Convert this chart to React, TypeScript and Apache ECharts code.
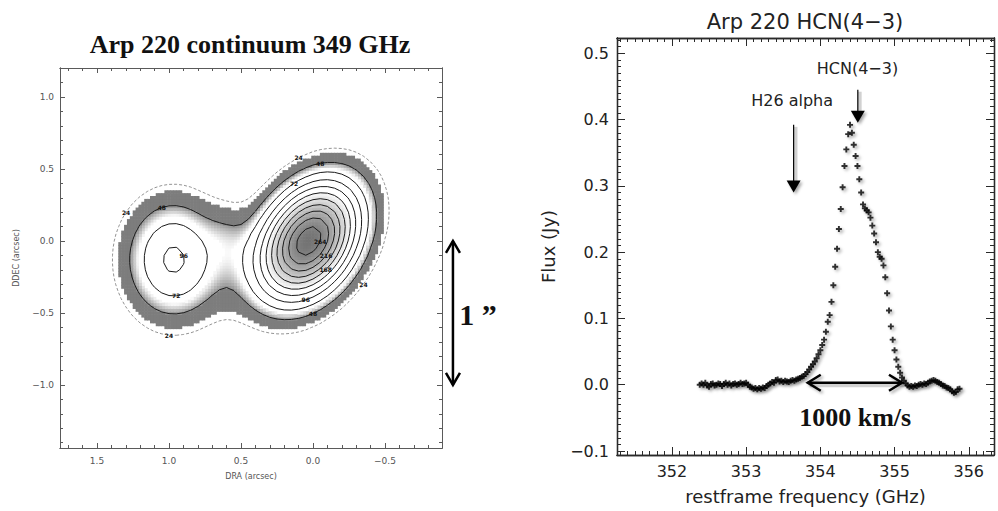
import React, { useEffect, useRef } from 'react';
import * as echarts from 'echarts';

// ---------------- Right panel: HCN(4-3) spectrum ----------------
const SPECTRUM: [number, number][] = [
  [352.375, 0.000], [352.400, 0.002], [352.425, 0.000], [352.450, 0.003], [352.475, -0.001],
  [352.500, -0.003], [352.525, 0.001], [352.550, 0.002], [352.575, -0.001], [352.600, 0.000],
  [352.625, 0.002], [352.650, 0.001], [352.675, -0.002], [352.700, 0.001], [352.725, 0.003],
  [352.750, 0.000], [352.775, 0.002], [352.800, -0.001], [352.825, 0.001], [352.850, 0.002],
  [352.875, 0.000], [352.900, 0.001], [352.925, 0.003], [352.950, 0.001], [352.975, 0.002],
  [353.000, 0.003], [353.025, 0.000], [353.050, -0.003], [353.075, -0.004], [353.100, -0.006],
  [353.125, -0.005], [353.150, -0.007], [353.175, -0.005], [353.200, -0.006], [353.225, -0.004],
  [353.250, -0.005], [353.275, -0.002], [353.300, 0.000], [353.325, 0.002], [353.350, 0.004],
  [353.375, 0.003], [353.400, 0.007], [353.425, 0.008], [353.450, 0.005], [353.475, 0.006],
  [353.500, 0.004], [353.525, 0.006], [353.550, 0.005], [353.575, 0.004], [353.600, 0.006],
  [353.625, 0.007], [353.650, 0.006], [353.675, 0.008], [353.700, 0.009], [353.725, 0.010],
  [353.750, 0.012], [353.775, 0.013], [353.800, 0.016], [353.825, 0.019], [353.850, 0.023],
  [353.875, 0.027], [353.900, 0.031], [353.925, 0.035], [353.950, 0.040], [353.975, 0.046],
  [354.000, 0.052], [354.025, 0.060], [354.050, 0.068], [354.075, 0.080], [354.100, 0.095],
  [354.125, 0.105], [354.150, 0.125], [354.175, 0.150], [354.200, 0.178], [354.225, 0.205],
  [354.250, 0.235], [354.275, 0.265], [354.300, 0.298], [354.325, 0.330], [354.350, 0.355],
  [354.375, 0.378], [354.400, 0.392], [354.425, 0.380], [354.450, 0.362], [354.475, 0.345],
  [354.500, 0.330], [354.525, 0.310], [354.550, 0.290], [354.575, 0.272], [354.600, 0.266],
  [354.625, 0.263], [354.650, 0.260], [354.675, 0.252], [354.700, 0.240], [354.725, 0.228],
  [354.750, 0.215], [354.775, 0.200], [354.800, 0.193], [354.825, 0.190], [354.850, 0.180],
  [354.875, 0.162], [354.900, 0.138], [354.925, 0.112], [354.950, 0.088], [354.975, 0.068],
  [355.000, 0.052], [355.025, 0.038], [355.050, 0.027], [355.075, 0.018], [355.100, 0.011],
  [355.125, 0.006], [355.150, 0.002], [355.175, -0.001], [355.200, -0.003], [355.225, -0.002],
  [355.250, -0.003], [355.275, -0.001], [355.300, -0.002], [355.325, 0.000], [355.350, 0.001],
  [355.375, 0.000], [355.400, 0.002], [355.425, 0.001], [355.450, 0.003], [355.475, 0.005],
  [355.500, 0.006], [355.525, 0.007], [355.550, 0.006], [355.575, 0.004], [355.600, 0.003],
  [355.625, 0.001], [355.650, -0.001], [355.675, -0.002], [355.700, -0.004], [355.725, -0.005],
  [355.750, -0.007], [355.775, -0.010], [355.800, -0.012], [355.825, -0.011], [355.850, -0.007],
  [355.875, -0.006],
];
const FREQ_TICKS = [352, 353, 354, 355, 356];
const FLUX_TICKS = [-0.1, 0, 0.1, 0.2, 0.3, 0.4, 0.5];
const FREQ_RANGE = [351.26, 356.34];
const FLUX_RANGE = [-0.106, 0.523];
const LINE_MARKS = [
  { name: 'HCN(4−3)', freq: 354.505, top: 0.445, tip: 0.395, labelFreq: 354.5, labelFlux: 0.477 },
  { name: 'H26 alpha', freq: 353.64, top: 0.392, tip: 0.29, labelFreq: 353.62, labelFlux: 0.428 },
];
const VELOCITY_BAR = { from: 353.83, to: 355.1, flux: 0.003, label: '1000 km/s', labelFreq: 354.47, labelFlux: -0.05 };

// ---------------- Left panel: continuum map ----------------
const DRA_TICKS = [1.5, 1.0, 0.5, 0.0, -0.5];
const DDEC_TICKS = [1.0, 0.5, 0.0, -0.5, -1.0];
const DRA_RANGE = [-0.896, 1.757];
const DDEC_RANGE = [-1.4375, 1.201];
const CONTOUR_LEVELS = [24, 48, 72, 96, 120, 144, 168, 192, 216, 240, 264];
// dra, ddec, peak, sigma major, sigma minor, angle of major axis (deg, screen right = -DRA, ccw)
const SOURCES = [
  [0.03, 0.0, 280, 0.316, 0.218, 57],
  [0.97, -0.13, 100, 0.31, 0.25, 90],
  [0.6, 0.06, 14, 0.16, 0.1, 90],
];
const CONTOUR_LABELS: [number, number, number][] = [
  [24, 1.26, 0.18], [48, 1.09, 0.28], [24, 0.08, 0.6], [48, -0.05, 0.54], [72, 0.14, 0.4],
  [96, 0.9, -0.12], [72, 0.95, -0.39], [24, 0.98, -0.67], [48, 0.02, -0.46], [96, 0.06, -0.37],
  [24, -0.31, -0.27], [264, -0.06, -0.02], [216, -0.09, -0.14], [168, -0.1, -0.23],
];
const SCALE_BAR = { dra: -0.972, from: 0.0, to: -1.0, label: '1 ”' };

type Pt = [number, number];

function field(dra: number, ddec: number): number {
  let s = 0;
  for (const [x0, y0, a, sa, sb, pa] of SOURCES) {
    const u = -(dra - x0);
    const v = ddec - y0;
    const t = (pa * Math.PI) / 180;
    const p = u * Math.cos(t) + v * Math.sin(t);
    const q = -u * Math.sin(t) + v * Math.cos(t);
    s += a * Math.exp(-0.5 * ((p / sa) ** 2 + (q / sb) ** 2));
  }
  return s;
}

function traceContours(vals: number[][], xs: number[], ys: number[], level: number): Pt[][] {
  const pts = new Map<string, Pt>();
  const adj = new Map<string, string[]>();
  const interp = (key: string, xa: number, ya: number, va: number, xb: number, yb: number, vb: number) => {
    if (!pts.has(key)) {
      const t = (level - va) / (vb - va);
      pts.set(key, [xa + t * (xb - xa), ya + t * (yb - ya)]);
    }
    return key;
  };
  const link = (a: string, b: string) => {
    if (!adj.has(a)) adj.set(a, []);
    if (!adj.has(b)) adj.set(b, []);
    adj.get(a)!.push(b);
    adj.get(b)!.push(a);
  };
  for (let j = 0; j < ys.length - 1; j++) {
    for (let i = 0; i < xs.length - 1; i++) {
      const v00 = vals[j][i], v10 = vals[j][i + 1], v11 = vals[j + 1][i + 1], v01 = vals[j + 1][i];
      const c = (v00 >= level ? 1 : 0) | (v10 >= level ? 2 : 0) | (v11 >= level ? 4 : 0) | (v01 >= level ? 8 : 0);
      if (c === 0 || c === 15) continue;
      const x0 = xs[i], x1 = xs[i + 1], y0 = ys[j], y1 = ys[j + 1];
      const B = () => interp('h' + i + '_' + j, x0, y0, v00, x1, y0, v10);
      const R = () => interp('v' + (i + 1) + '_' + j, x1, y0, v10, x1, y1, v11);
      const T = () => interp('h' + i + '_' + (j + 1), x0, y1, v01, x1, y1, v11);
      const L = () => interp('v' + i + '_' + j, x0, y0, v00, x0, y1, v01);
      if (c === 5 || c === 10) {
        const center = (v00 + v10 + v11 + v01) / 4 >= level;
        if ((c === 5) === center) { link(B(), R()); link(T(), L()); }
        else { link(B(), L()); link(R(), T()); }
        continue;
      }
      const b0 = c & 1, b1 = (c >> 1) & 1, b2 = (c >> 2) & 1, b3 = (c >> 3) & 1;
      const e: string[] = [];
      if (b0 !== b1) e.push(B());
      if (b1 !== b2) e.push(R());
      if (b2 !== b3) e.push(T());
      if (b3 !== b0) e.push(L());
      if (e.length === 2) link(e[0], e[1]);
    }
  }
  const used = new Set<string>();
  const lines: Pt[][] = [];
  const walk = (start: string) => {
    const chain = [start];
    used.add(start);
    let cur = start;
    for (;;) {
      const nx = (adj.get(cur) || []).find((k) => !used.has(k));
      if (!nx) break;
      used.add(nx);
      chain.push(nx);
      cur = nx;
    }
    if (chain.length > 2 && (adj.get(cur) || []).includes(start)) chain.push(start);
    lines.push(chain.map((k) => pts.get(k)!));
  };
  for (const [k, n] of adj) if (n.length === 1 && !used.has(k)) walk(k);
  for (const k of adj.keys()) if (!used.has(k)) walk(k);
  return lines;
}

function grayOf(v: number): number {
  if (v < 31) return -1;
  if (v < 48) return 125;
  if (v < 62) return Math.round(145 + ((v - 48) / 14) * 110);
  if (v < 140) return -1;
  return Math.round(255 - Math.min(1, (v - 140) / 140) * 140);
}

function buildMap() {
  const cells: number[][] = [];
  const h = 0.01;
  for (let i = 0; i <= 130; i++) {
    const x = -0.86 + i * 0.02;
    for (let j = 0; j <= 100; j++) {
      const y = -1.0 + j * 0.02;
      const g = grayOf(field(x, y));
      if (g >= 0 && g < 252) cells.push([x, y, g]);
    }
  }
  const xs: number[] = [], ys: number[] = [];
  for (let i = 0; i <= 52; i++) xs.push(-0.85 + i * 0.05);
  for (let j = 0; j <= 40; j++) ys.push(-1.0 + j * 0.05);
  const vals = ys.map((y) => xs.map((x) => field(x, y)));
  const lines: { level: number; pts: Pt[] }[] = [];
  for (const lv of CONTOUR_LEVELS) for (const pl of traceContours(vals, xs, ys, lv)) if (pl.length > 2) lines.push({ level: lv, pts: pl });
  const labels: number[][] = [];
  for (const [lv, x, y] of CONTOUR_LABELS) {
    let best: Pt | null = null, bd = Infinity;
    for (const l of lines) if (l.level === lv) for (const p of l.pts) {
      const d = (p[0] - x) ** 2 + (p[1] - y) ** 2;
      if (d < bd) { bd = d; best = p; }
    }
    if (best && bd < 0.04) labels.push([best[0], best[1], lv]);
  }
  return { cells, h, lines, labels };
}

const fmt = (digits: number) => (v: number) => (v < -1e-9 ? '−' : '') + Math.abs(v).toFixed(digits);

function minorTicks(from: number, to: number, step: number, every: number): number[] {
  const out: number[] = [];
  const a = Math.round(from / step), b = Math.round(to / step);
  for (let k = a; k <= b; k++) if (k % every !== 0) out.push(+(k * step).toFixed(4));
  return out;
}

function axisSet(dim: 'x' | 'y', gridIndex: number, range: number[], inverse: boolean, major: number[], minor: number[], cfg: any) {
  const [p1, p2] = dim === 'x' ? ['bottom', 'top'] : ['left', 'right'];
  const base = (position: string, ticks: number[], len: number, label: boolean, extra?: any) => ({
    type: 'value', gridIndex, position, min: range[0], max: range[1], inverse,
    axisLine: { show: true, onZero: false, lineStyle: { color: cfg.color, width: cfg.lineWidth } },
    axisTick: { show: true, inside: true, length: len, customValues: ticks, lineStyle: { color: cfg.color, width: cfg.tickWidth } },
    axisLabel: label
      ? { show: true, customValues: ticks, margin: cfg.margin, formatter: cfg.formatter, color: cfg.labelColor, fontSize: cfg.fontSize, fontFamily: cfg.fontFamily }
      : { show: false },
    splitLine: { show: false }, minorTick: { show: false }, minorSplitLine: { show: false },
    ...(extra || {}),
  });
  return [
    base(p1, major, cfg.majorLen, true, cfg.name),
    base(p1, minor, cfg.minorLen, false),
    base(p2, major, cfg.majorLen, false),
    base(p2, minor, cfg.minorLen, false),
  ];
}

function buildOption() {
  const map = buildMap();
  const leftCfg = { color: '#5a5a5a', lineWidth: 1, tickWidth: 1, majorLen: 5, minorLen: 3, labelColor: '#555', fontSize: 9, fontFamily: 'DejaVu Sans', margin: 8 };
  const rightCfg = { color: '#2a2a2a', lineWidth: 1.3, tickWidth: 1, majorLen: 8, minorLen: 4, labelColor: '#222', fontSize: 16, fontFamily: 'DejaVu Sans', margin: 8 };
  const xAxis = [
    ...axisSet('x', 0, DRA_RANGE, true, DRA_TICKS, minorTicks(-0.8, 1.7, 0.1, 5), {
      ...leftCfg, formatter: fmt(1),
      name: { name: 'DRA (arcsec)', nameLocation: 'middle', nameGap: 24, nameTextStyle: { fontSize: 8, fontFamily: 'DejaVu Sans', color: '#555' } },
    }),
    ...axisSet('x', 1, FREQ_RANGE, false, FREQ_TICKS, minorTicks(351.3, 356.3, 0.1, 10), {
      ...rightCfg, formatter: fmt(0),
      name: { name: 'restframe frequency (GHz)', nameLocation: 'middle', nameGap: 32, nameTextStyle: { fontSize: 18, fontFamily: 'DejaVu Sans', color: '#222' } },
    }),
  ];
  const yAxis = [
    ...axisSet('y', 0, DDEC_RANGE, false, DDEC_TICKS, minorTicks(-1.4, 1.2, 0.1, 5), {
      ...leftCfg, margin: 6, formatter: fmt(1),
      name: { name: 'DDEC (arcsec)', nameLocation: 'middle', nameGap: 40, nameRotate: 90, nameTextStyle: { fontSize: 8, fontFamily: 'DejaVu Sans', color: '#555' } },
    }),
    ...axisSet('y', 1, FLUX_RANGE, false, FLUX_TICKS, minorTicks(-0.1, 0.52, 0.01, 10), {
      ...rightCfg, formatter: fmt(1),
      name: { name: 'Flux (Jy)', nameLocation: 'middle', nameGap: 60, nameRotate: 90, nameTextStyle: { fontSize: 18, fontFamily: 'DejaVu Sans', color: '#222' } },
    }),
  ];
  const plus = 'path://M3.4,0H6.6V3.4H10V6.6H6.6V10H3.4V6.6H0V3.4H3.4Z';
  return {
    animation: false,
    backgroundColor: '#ffffff',
    grid: [
      { left: 60, top: 68, width: 382, height: 380, outerBoundsMode: 'none' },
      { left: 617, top: 38, width: 377, height: 417, outerBoundsMode: 'none' },
    ],
    xAxis,
    yAxis,
    series: [
      {
        type: 'custom', xAxisIndex: 0, yAxisIndex: 0, silent: true, z: 1,
        data: map.cells,
        renderItem: (params: any, api: any) => {
          const x = api.value(0), y = api.value(1), g = api.value(2);
          const p0 = api.coord([x + map.h, y + map.h]);
          const p1 = api.coord([x - map.h, y - map.h]);
          return {
            type: 'rect',
            shape: { x: Math.min(p0[0], p1[0]) - 0.3, y: Math.min(p0[1], p1[1]) - 0.3, width: Math.abs(p1[0] - p0[0]) + 0.6, height: Math.abs(p1[1] - p0[1]) + 0.6 },
            style: { fill: `rgb(${g},${g},${g})` },
          };
        },
      },
      {
        type: 'custom', xAxisIndex: 0, yAxisIndex: 0, silent: true, z: 2,
        data: map.lines.map((l, k) => [l.pts[0][0], l.pts[0][1], k]),
        renderItem: (params: any, api: any) => {
          const l = map.lines[api.value(2)];
          const outer = l.level === CONTOUR_LEVELS[0];
          return {
            type: 'polyline',
            shape: { points: l.pts.map((p) => api.coord(p)) },
            style: { stroke: outer ? '#777' : '#1a1a1a', lineWidth: outer ? 0.8 : 1, lineDash: outer ? [3, 2] : null, fill: 'none' },
          };
        },
      },
      {
        type: 'custom', xAxisIndex: 0, yAxisIndex: 0, silent: true, z: 3,
        data: map.labels,
        renderItem: (params: any, api: any) => {
          const p = api.coord([api.value(0), api.value(1)]);
          return {
            type: 'text', x: p[0], y: p[1],
            style: { text: String(api.value(2)), fontSize: 6, fontWeight: 'bold', fontFamily: 'DejaVu Sans', fill: '#111', align: 'center', verticalAlign: 'middle' },
          };
        },
      },
      {
        type: 'scatter', xAxisIndex: 4, yAxisIndex: 4, silent: true, z: 5,
        data: SPECTRUM,
        symbol: plus, symbolSize: 6,
        itemStyle: { color: '#000', shadowBlur: 3, shadowOffsetX: 2, shadowOffsetY: 2, shadowColor: 'rgba(0,0,0,0.35)' },
      },
    ],
  };
}

function buildGraphics(chart: any) {
  const L = (x: number, y: number) => chart.convertToPixel({ xAxisIndex: 0, yAxisIndex: 0 }, [x, y]) as number[];
  const R = (x: number, y: number) => chart.convertToPixel({ xAxisIndex: 4, yAxisIndex: 4 }, [x, y]) as number[];
  const shadow = { shadowBlur: 3, shadowOffsetX: 2, shadowOffsetY: 2, shadowColor: 'rgba(0,0,0,0.35)' };
  const els: any[] = [];
  const text = (p: number[], s: string, font: string, fill = '#111') =>
    els.push({ type: 'text', x: p[0], y: p[1], z: 100, style: { text: s, font, fill, align: 'center', verticalAlign: 'middle' } });
  const chevron = (tip: number[], dir: number[], len: number, half: number, width: number, sh: any) => {
    const [dx, dy] = dir; const nx = -dy, ny = dx;
    els.push({
      type: 'polyline', z: 100,
      shape: { points: [[tip[0] - dx * len + nx * half, tip[1] - dy * len + ny * half], [tip[0], tip[1]], [tip[0] - dx * len - nx * half, tip[1] - dy * len - ny * half]] },
      style: { stroke: '#000', lineWidth: width, fill: 'none', lineJoin: 'miter', ...sh },
    });
  };
  // straight lines: shadow drawn as an offset soft copy (filters fail on zero-area boxes)
  const line = (a: number[], b: number[], width: number, withShadow: boolean) => {
    if (withShadow) {
      els.push({ type: 'line', z: 99, shape: { x1: a[0] + 2, y1: a[1] + 2, x2: b[0] + 2, y2: b[1] + 2 }, style: { stroke: 'rgba(0,0,0,0.18)', lineWidth: width + 2.5 } });
    }
    els.push({ type: 'line', z: 100, shape: { x1: a[0], y1: a[1], x2: b[0], y2: b[1] }, style: { stroke: '#000', lineWidth: width } });
  };

  // titles
  text([250, 44], 'Arp 220 continuum 349 GHz', 'bold 26px "Liberation Serif"');
  text([805, 22], 'Arp 220 HCN(4−3)', '21px "DejaVu Sans"', '#222');

  // scale bar on the map
  const s0 = L(SCALE_BAR.dra, SCALE_BAR.from), s1 = L(SCALE_BAR.dra, SCALE_BAR.to);
  line(s0, s1, 2.5, false);
  chevron(s0, [0, -1], 12, 7, 2.5, {});
  chevron(s1, [0, 1], 12, 7, 2.5, {});
  text([s0[0] + 25, (s0[1] + s1[1]) / 2 + 2], SCALE_BAR.label, 'bold 30px "Liberation Serif"');

  // line markers on the spectrum
  for (const m of LINE_MARKS) {
    const a = R(m.freq, m.top), tip = R(m.freq, m.tip);
    line(a, [tip[0], tip[1] - 10], 1.2, true);
    els.push({ type: 'polygon', z: 100, shape: { points: [[tip[0], tip[1]], [tip[0] - 7, tip[1] - 12], [tip[0] + 7, tip[1] - 12]] }, style: { fill: '#000', ...shadow } });
    text(R(m.labelFreq, m.labelFlux), m.name, '16px "DejaVu Sans"', '#222');
  }

  // velocity width bar
  const v0 = R(VELOCITY_BAR.from, VELOCITY_BAR.flux), v1 = R(VELOCITY_BAR.to, VELOCITY_BAR.flux);
  line(v0, v1, 2.5, true);
  chevron(v0, [-1, 0], 13, 8, 2.5, shadow);
  chevron(v1, [1, 0], 13, 8, 2.5, shadow);
  text(R(VELOCITY_BAR.labelFreq, VELOCITY_BAR.labelFlux), VELOCITY_BAR.label, 'bold 26px "Liberation Serif"');
  return els;
}

export default function App() {
  const ref = useRef<HTMLDivElement>(null);
  useEffect(() => {
    const chart = echarts.init(ref.current!, null, { renderer: 'svg' });
    chart.setOption(buildOption() as any);
    chart.setOption({ graphic: buildGraphics(chart) } as any);
    return () => chart.dispose();
  }, []);
  return <div ref={ref} style={{ position: 'fixed', left: 0, top: 0, width: 998, height: 511, background: '#fff' }} />;
}
